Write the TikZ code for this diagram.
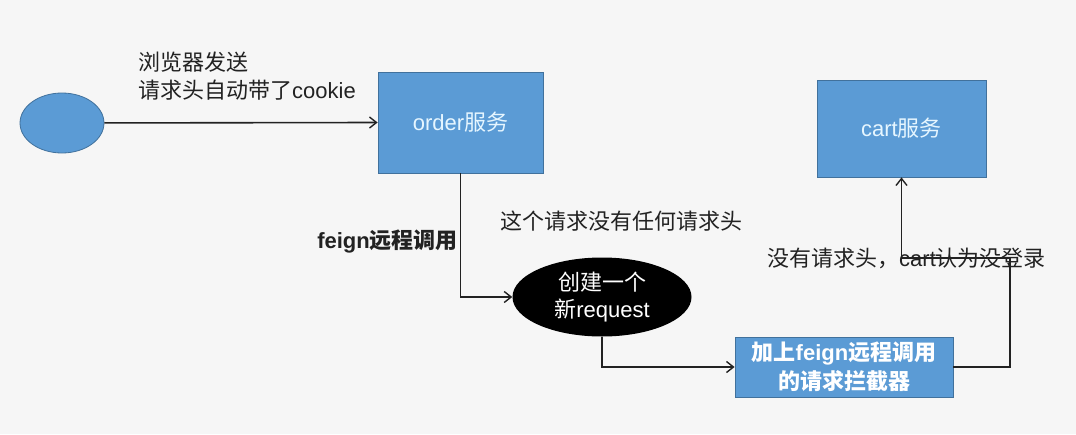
\documentclass[tikz,border=0pt]{standalone}
\usepackage{fontspec}
\setmainfont{Liberation Sans}
\newfontfamily\cjk{Noto Sans CJK SC}
\usetikzlibrary{arrows.meta,shapes.geometric}
\definecolor{boxblue}{HTML}{5B9BD5}
\definecolor{boxedge}{HTML}{41719C}
\definecolor{boxtext}{HTML}{E6F6FF}
\definecolor{bg}{HTML}{F6F6F6}
\definecolor{ink}{HTML}{222222}
\tikzset{
  x=1pt, y=-1pt,
  txt/.style={font=\fontsize{22}{28}\selectfont, text=ink, inner sep=0pt},
  bluebox/.style={draw=boxedge, line width=0.8pt, fill=boxblue, text=boxtext,
    font=\fontsize{22}{28}\selectfont, inner sep=0pt, align=center},
  conn/.style={draw=ink, line width=1.6pt, -{Straight Barb[length=7pt,width=11pt,line width=1.4pt]}},
}
\begin{document}
\begin{tikzpicture}
\fill[bg] (0,0) rectangle (1076,434);
\useasboundingbox (0,0) rectangle (1076,434);

% start ellipse
\node[draw=boxedge, line width=0.8pt, fill=boxblue, ellipse, minimum width=84pt, minimum height=60pt, inner sep=0pt] (start) at (62,123) {};

% order box
\node[bluebox, minimum width=165pt, minimum height=101pt] (order) at (460.5,122.5) {order{\cjk 服务}};

% cart box
\node[bluebox, minimum width=169pt, minimum height=97pt] (cart) at (901.5,128.5) {cart{\cjk 服务}};

% new request ellipse
\node[ellipse, fill=black, minimum width=179pt, minimum height=79pt, inner sep=0pt, text=white,
  font=\fontsize{22}{27}\selectfont, align=center] (req) at (602,297) {{\cjk 创建一个}\\{\cjk 新}request};

% interceptor box
\node[bluebox, text=white, font=\fontsize{22}{29}\selectfont\bfseries, minimum width=218pt, minimum height=60pt] (intc) at (844,367) {{\cjk\bfseries 加上}feign{\cjk\bfseries 远程调用}\\{\cjk\bfseries 的请求拦截器}};

% labels
\node[txt, anchor=west, align=left] (lbl1) at (138,76) {{\cjk 浏览器发送}\\{\cjk 请求头自动带了}cookie};
\node[txt, anchor=east, font=\fontsize{22}{28}\selectfont\bfseries] (lbl2) at (458,242) {feign{\cjk\bfseries 远程调用}};
\node[txt, anchor=west] (lbl3) at (500,221) {{\cjk 这个请求没有任何请求头}};
\node[txt, anchor=west] (lbl4) at (767,258) {{\cjk 没有请求头，}cart{\cjk 认为没登录}};

% connectors
\coordinate (c1) at (1010,258);
\draw[conn] (start) -- (order.west);
\draw[conn] (order.south) |- (req.west);
\draw[conn] (req.south) |- (intc.west);
\draw[conn] (intc.east) -| (c1) -| (cart.south);
\end{tikzpicture}
\end{document}
